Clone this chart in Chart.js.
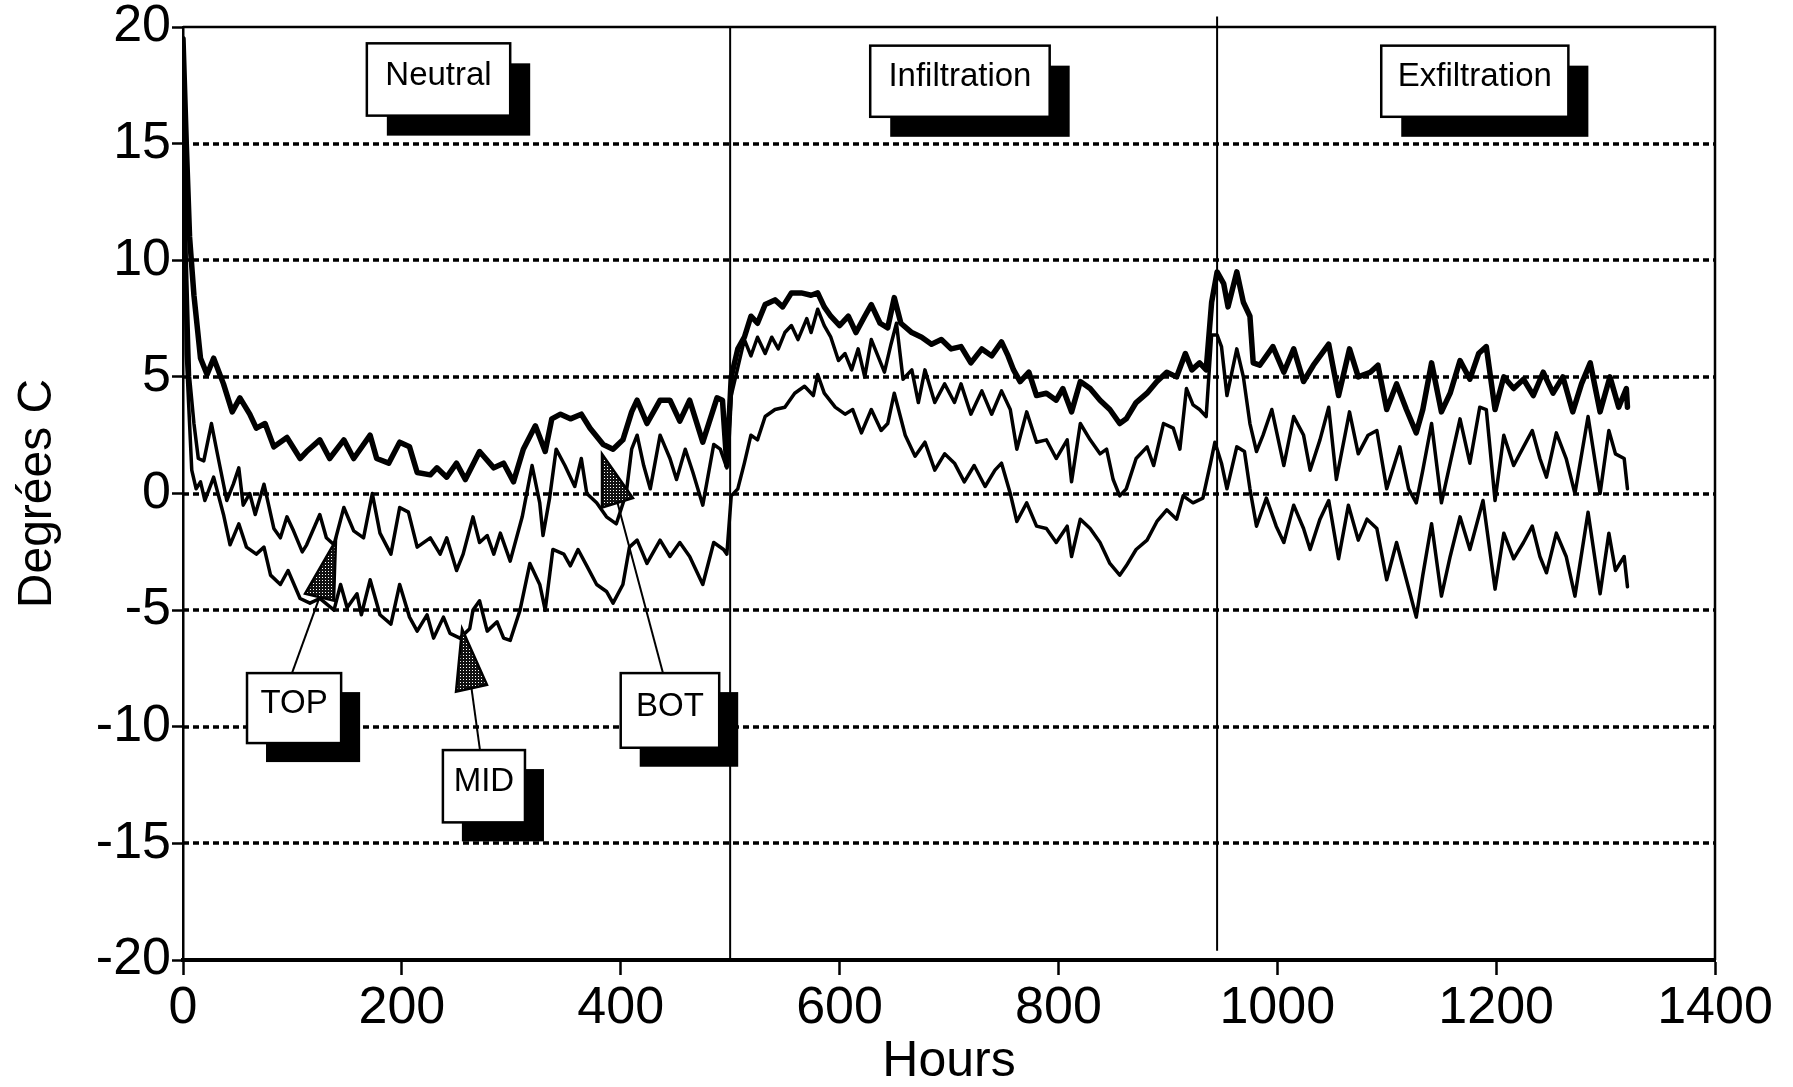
<!DOCTYPE html>
<html>
<head>
<meta charset="utf-8">
<title>Degrées C / Hours</title>
<script src="https://cdn.jsdelivr.net/npm/chart.js@4.4.0/dist/chart.umd.min.js"></script>
<style>
  html, body { margin: 0; padding: 0; background: #fff; }
  canvas { display: block; }
</style>
</head>
<body>
<canvas id="tempChart" width="1793" height="1087"></canvas>
<script>
// BOT sensor (heavy upper trace)
const botHours = [0, 3, 6, 10, 16, 22, 28, 37, 45, 52, 61, 67, 75, 83, 95, 107, 113, 125, 134, 147,
  156, 171, 177, 188, 198, 207, 214, 226, 232, 241, 250, 258, 271, 284, 293, 302, 311, 322, 331, 337,
  345, 354, 364, 372, 384, 393, 402, 410, 415, 424, 436, 445, 454, 463, 475, 488, 493, 497, 501, 507,
  513, 519, 525, 532, 541, 548, 556, 565, 574, 580, 586, 592, 600, 608, 615, 623, 629, 637, 644, 650,
  656, 666, 675, 684, 693, 702, 711, 720, 730, 739, 748, 754, 759, 765, 773, 780, 789, 798, 804, 812,
  820, 829, 838, 847, 856, 862, 871, 881, 890, 899, 908, 916, 922, 929, 935, 940, 945, 951, 955, 963,
  969, 975, 978, 984, 996, 1006, 1015, 1024, 1033, 1047, 1056, 1066, 1074, 1085, 1092, 1100, 1109, 1118, 1127, 1133,
  1141, 1150, 1158, 1167, 1176, 1184, 1191, 1199, 1207, 1216, 1225, 1234, 1243, 1252, 1261, 1270, 1278, 1286, 1295, 1304,
  1312, 1319, 1320];
const botTemps = [19.5, 15, 11, 8.5, 5.8, 5.1, 5.8, 4.7, 3.5, 4.1, 3.4, 2.8, 3.0, 2.0, 2.4, 1.5, 1.8, 2.3, 1.5, 2.3,
  1.5, 2.5, 1.5, 1.3, 2.2, 2.0, 0.9, 0.8, 1.1, 0.7, 1.3, 0.6, 1.8, 1.1, 1.3, 0.5, 1.9, 2.9, 1.8, 3.2,
  3.4, 3.2, 3.4, 2.8, 2.1, 1.9, 2.3, 3.5, 4.0, 3.0, 4.0, 4.0, 3.1, 4.0, 2.2, 4.1, 4.0, 1.2, 5.0, 6.2,
  6.7, 7.6, 7.3, 8.1, 8.3, 8.0, 8.6, 8.6, 8.5, 8.6, 8.0, 7.6, 7.2, 7.6, 6.9, 7.6, 8.1, 7.3, 7.1, 8.4,
  7.3, 6.9, 6.7, 6.4, 6.6, 6.2, 6.3, 5.6, 6.2, 5.9, 6.5, 5.9, 5.3, 4.8, 5.2, 4.2, 4.3, 4.0, 4.5, 3.5,
  4.8, 4.5, 4.0, 3.6, 3.0, 3.2, 3.9, 4.3, 4.8, 5.2, 5.0, 6.0, 5.3, 5.6, 5.3, 8.2, 9.5, 9.0, 8.0, 9.5,
  8.2, 7.6, 5.6, 5.5, 6.3, 5.2, 6.2, 4.8, 5.5, 6.4, 4.2, 6.2, 5.0, 5.2, 5.5, 3.6, 4.7, 3.6, 2.6, 3.6,
  5.6, 3.5, 4.3, 5.7, 4.9, 6.0, 6.3, 3.6, 5.0, 4.5, 4.9, 4.2, 5.2, 4.3, 5.0, 3.5, 4.7, 5.6, 3.5, 5.0,
  3.7, 4.5, 3.7];

// TOP sensor (middle trace)
const topHours = [0, 3, 6, 10, 14, 19, 26, 31, 40, 46, 51, 55, 61, 66, 74, 83, 89, 95, 101, 109,
  113, 125, 131, 138, 147, 156, 165, 173, 180, 190, 198, 206, 214, 226, 235, 241, 250, 256, 265, 271,
  278, 284, 290, 299, 310, 319, 326, 329, 335, 341, 349, 358, 364, 369, 378, 387, 396, 405, 410, 415,
  421, 427, 436, 445, 451, 459, 466, 475, 485, 491, 497, 501, 507, 513, 519, 525, 532, 538, 544, 550,
  556, 562, 570, 574, 580, 586, 592, 599, 605, 611, 617, 623, 629, 635, 641, 647, 652, 658, 666, 672,
  678, 687, 696, 705, 711, 720, 730, 739, 748, 756, 762, 771, 780, 789, 798, 808, 812, 820, 829, 838,
  844, 850, 856, 862, 871, 881, 887, 896, 905, 911, 917, 923, 929, 935, 940, 945, 949, 954, 963, 969,
  975, 981, 987, 995, 1006, 1015, 1024, 1030, 1039, 1047, 1054, 1066, 1074, 1083, 1091, 1100, 1112, 1120, 1127, 1133,
  1141, 1150, 1158, 1167, 1176, 1185, 1191, 1199, 1207, 1216, 1225, 1233, 1240, 1246, 1255, 1264, 1272, 1284, 1295, 1303,
  1309, 1317, 1320];
const topTemps = [18, 10, 5, 3, 1.5, 1.4, 3.0, 1.8, -0.3, 0.4, 1.1, -0.5, 0, -0.9, 0.4, -1.5, -1.9, -1.0, -1.6, -2.5,
  -2.2, -0.9, -1.9, -2.2, -0.6, -1.6, -1.9, 0, -1.7, -2.6, -0.6, -0.8, -2.3, -1.9, -2.6, -1.9, -3.3, -2.6, -1.0, -2.1,
  -1.8, -2.6, -1.7, -2.9, -1.0, 1.2, -0.4, -1.8, -0.2, 1.9, 1.2, 0.3, 1.5, 0, -0.4, -1.0, -1.3, 0, 1.9, 2.5,
  1.2, 0.2, 2.5, 1.5, 0.6, 1.9, 0.9, -0.5, 2.1, 1.9, 1.1, 4.2, 5.4, 6.6, 5.9, 6.7, 6.0, 6.7, 6.2, 6.9,
  7.2, 6.6, 7.5, 6.9, 7.9, 7.2, 6.7, 5.7, 6.0, 5.3, 6.2, 5.0, 6.6, 5.9, 5.2, 6.4, 7.3, 4.9, 5.3, 3.9,
  5.3, 3.9, 4.7, 3.9, 4.7, 3.4, 4.4, 3.4, 4.4, 3.6, 1.9, 3.5, 2.2, 2.3, 1.5, 2.3, 0.5, 3.0, 2.3, 1.7,
  1.9, 0.6, -0.1, 0.2, 1.5, 2.0, 1.2, 3.0, 2.8, 1.9, 4.5, 3.8, 3.6, 3.3, 6.8, 6.8, 6.3, 4.2, 6.2, 5.0,
  3.0, 1.8, 2.5, 3.6, 1.2, 3.3, 2.5, 1.0, 2.3, 3.7, 0.6, 3.5, 1.7, 2.5, 2.7, 0.2, 2.0, 0.2, -0.4, 1.0,
  3.0, -0.4, 1.3, 3.2, 1.3, 3.7, 3.6, -0.3, 2.5, 1.2, 2.0, 2.7, 1.5, 0.7, 2.6, 1.5, 0, 3.3, 0, 2.7,
  1.7, 1.5, 0.2];

// MID sensor (lower trace)
const midHours = [0, 3, 8, 12, 16, 20, 28, 37, 43, 51, 58, 67, 74, 80, 89, 96, 107, 116, 125, 138,
  144, 150, 159, 163, 171, 180, 190, 198, 207, 214, 223, 229, 238, 244, 253, 262, 265, 271, 278, 287,
  293, 299, 308, 317, 326, 331, 338, 348, 354, 361, 369, 378, 387, 393, 402, 408, 415, 424, 436, 445,
  454, 463, 475, 485, 494, 497, 501, 507, 513, 519, 525, 532, 541, 550, 559, 568, 576, 580, 586, 596,
  605, 612, 620, 629, 638, 644, 650, 660, 669, 678, 687, 696, 705, 714, 723, 733, 742, 748, 756, 762,
  771, 780, 789, 798, 808, 812, 820, 829, 838, 847, 856, 862, 871, 881, 890, 899, 908, 914, 923, 932,
  939, 943, 949, 954, 963, 970, 975, 981, 990, 999, 1006, 1015, 1024, 1030, 1039, 1047, 1056, 1065, 1074, 1082,
  1091, 1100, 1109, 1118, 1127, 1133, 1141, 1150, 1158, 1167, 1176, 1188, 1199, 1207, 1216, 1225, 1233, 1240, 1246, 1255,
  1264, 1272, 1284, 1295, 1303, 1309, 1317, 1320];
const midTemps = [16, 6, 1, 0.2, 0.5, -0.3, 0.7, -0.9, -2.2, -1.3, -2.3, -2.6, -2.3, -3.5, -3.9, -3.3, -4.5, -4.7, -4.5, -5.0,
  -3.9, -4.9, -4.3, -5.2, -3.7, -5.2, -5.6, -3.9, -5.3, -5.9, -5.2, -6.2, -5.3, -6.0, -6.2, -5.8, -5.0, -4.6, -5.9, -5.5,
  -6.2, -6.3, -5.0, -3.0, -3.9, -5.0, -2.4, -2.6, -3.1, -2.4, -3.1, -3.9, -4.2, -4.7, -3.9, -2.3, -2.0, -3.0, -2.0, -2.7,
  -2.1, -2.7, -3.9, -2.1, -2.4, -2.6, -0.1, 0.2, 1.3, 2.5, 2.3, 3.3, 3.6, 3.7, 4.3, 4.6, 4.2, 5.1, 4.3, 3.7,
  3.4, 3.6, 2.6, 3.6, 2.7, 3.0, 4.3, 2.5, 1.6, 2.2, 1.0, 1.7, 1.3, 0.5, 1.2, 0.3, 1.0, 1.3, 0, -1.2,
  -0.4, -1.4, -1.5, -2.1, -1.4, -2.7, -1.1, -1.5, -2.1, -3.0, -3.5, -3.1, -2.4, -2.0, -1.2, -0.7, -1.1, -0.1, -0.4, -0.2,
  1.3, 2.2, 1.3, 0.2, 2.0, 1.8, 0.2, -1.4, -0.2, -1.4, -2.1, -0.5, -1.5, -2.4, -1.1, -0.3, -2.8, -0.5, -2.0, -1.1,
  -1.5, -3.7, -2.1, -3.7, -5.3, -3.5, -1.3, -4.4, -2.7, -1.0, -2.4, -0.3, -4.1, -1.7, -2.8, -2.1, -1.4, -2.7, -3.4, -1.7,
  -2.7, -4.4, -0.8, -4.3, -1.7, -3.3, -2.7, -4.0];

const hourTicks = [0, 200, 400, 600, 800, 1000, 1200, 1400];
const degreeTicks = [-20, -15, -10, -5, 0, 5, 10, 15, 20];
const phaseBreaks = [500, 945];

const BASE_FONT = '"Liberation Sans", Arial, Helvetica, sans-serif';

// boxed captions, placed in axis units (hours / degrees)
const phaseBoxes = [
  { text: 'Neutral', x0: 168, x1: 299, y0: 19.3, y1: 16.2 },
  { text: 'Infiltration', x0: 628, x1: 792, y0: 19.2, y1: 16.15 },
  { text: 'Exfiltration', x0: 1095, x1: 1266, y0: 19.2, y1: 16.15 }
];
const sensorBoxes = [
  { text: 'TOP', x0: 58.5, x1: 144.5, y0: -7.7, y1: -10.7,
    tip: [139.8, -2.0], base: [[111.5, -4.3], [138, -4.6]], tail: [99.6, -7.7] },
  { text: 'MID', x0: 237.5, x1: 312.5, y0: -11.0, y1: -14.1,
    tip: [255, -5.8], base: [[249.5, -8.5], [277.8, -8.2]], tail: [271.4, -11.0] },
  { text: 'BOT', x0: 400, x1: 490, y0: -7.7, y1: -10.9,
    tip: [382.9, 1.7], base: [[382.9, -0.6], [411.2, -0.2]], tail: [438.6, -7.7] }
];

function toPoints(xs, ys) {
  return xs.map((x, i) => ({ x: x, y: ys[i] }));
}

function dotPattern(ctx) {
  const tile = document.createElement('canvas');
  tile.width = 3;
  tile.height = 3;
  const t = tile.getContext('2d');
  t.fillStyle = '#111';
  t.fillRect(0, 0, 3, 3);
  t.fillStyle = '#fff';
  t.fillRect(1, 1, 1, 1);
  return ctx.createPattern(tile, 'repeat');
}

function drawBox(ctx, sx, sy, box, shadow) {
  const l = sx.getPixelForValue(box.x0), r = sx.getPixelForValue(box.x1);
  const t = sy.getPixelForValue(box.y0), b = sy.getPixelForValue(box.y1);
  ctx.fillStyle = '#000';
  ctx.fillRect(l + shadow, t + shadow, r - l, b - t);
  ctx.fillStyle = '#fff';
  ctx.fillRect(l, t, r - l, b - t);
  ctx.lineWidth = 2.5;
  ctx.strokeStyle = '#000';
  ctx.strokeRect(l, t, r - l, b - t);
  ctx.fillStyle = '#000';
  ctx.font = '33px ' + BASE_FONT;
  ctx.textAlign = 'center';
  ctx.textBaseline = 'middle';
  ctx.fillText(box.text, (l + r) / 2, (t + b) / 2 - 4);
}

const frameAndNotes = {
  id: 'frameAndNotes',
  beforeDatasetsDraw(chart) {
    const { ctx, chartArea: { left, right, top, bottom }, scales: { x, y } } = chart;
    ctx.save();
    ctx.strokeStyle = '#000';

    // dotted grid at the inner degree ticks
    ctx.lineWidth = 3.5;
    ctx.setLineDash([6, 4]);
    degreeTicks.slice(1, -1).forEach(v => {
      const py = Math.round(y.getPixelForValue(v));
      ctx.beginPath();
      ctx.moveTo(left, py);
      ctx.lineTo(right, py);
      ctx.stroke();
    });
    ctx.setLineDash([]);

    // top and right frame
    ctx.lineWidth = 2.5;
    ctx.beginPath();
    ctx.moveTo(left, top);
    ctx.lineTo(right, top);
    ctx.lineTo(right, bottom);
    ctx.stroke();

    // phase separators
    ctx.lineWidth = 2;
    const p1 = x.getPixelForValue(phaseBreaks[0]);
    ctx.beginPath();
    ctx.moveTo(p1, top);
    ctx.lineTo(p1, bottom);
    ctx.stroke();
    const p2 = x.getPixelForValue(phaseBreaks[1]);
    ctx.beginPath();
    ctx.moveTo(p2, y.getPixelForValue(20.45));
    ctx.lineTo(p2, y.getPixelForValue(-19.6));
    ctx.stroke();
    ctx.restore();
  },
  afterDatasetsDraw(chart) {
    const { ctx, scales: { x, y } } = chart;
    ctx.save();
    const dots = dotPattern(ctx);

    phaseBoxes.forEach(box => drawBox(ctx, x, y, box, 20));

    sensorBoxes.forEach(box => {
      const tip = [x.getPixelForValue(box.tip[0]), y.getPixelForValue(box.tip[1])];
      const b1 = [x.getPixelForValue(box.base[0][0]), y.getPixelForValue(box.base[0][1])];
      const b2 = [x.getPixelForValue(box.base[1][0]), y.getPixelForValue(box.base[1][1])];
      const tail = [x.getPixelForValue(box.tail[0]), y.getPixelForValue(box.tail[1])];

      // pointer stem
      ctx.strokeStyle = '#000';
      ctx.lineWidth = 2;
      ctx.beginPath();
      ctx.moveTo((b1[0] + b2[0]) / 2, (b1[1] + b2[1]) / 2);
      ctx.lineTo(tail[0], tail[1]);
      ctx.stroke();

      // stippled arrow head
      ctx.beginPath();
      ctx.moveTo(tip[0], tip[1]);
      ctx.lineTo(b1[0], b1[1]);
      ctx.lineTo(b2[0], b2[1]);
      ctx.closePath();
      ctx.fillStyle = dots;
      ctx.fill();
      ctx.lineWidth = 2.5;
      ctx.stroke();

      drawBox(ctx, x, y, box, 19);
    });
    ctx.restore();
  }
};

const tickFont = { family: BASE_FONT, size: 52, lineHeight: 1.0 };

new Chart(document.getElementById('tempChart'), {
  type: 'line',
  data: {
    datasets: [
      { label: 'BOT', data: toPoints(botHours, botTemps), borderColor: '#000', borderWidth: 5.5 },
      { label: 'TOP', data: toPoints(topHours, topTemps), borderColor: '#000', borderWidth: 3.5 },
      { label: 'MID', data: toPoints(midHours, midTemps), borderColor: '#000', borderWidth: 3.5 }
    ]
  },
  options: {
    responsive: false,
    animation: false,
    events: [],
    elements: {
      point: { radius: 0 },
      line: { tension: 0, fill: false, borderJoinStyle: 'round', borderCapStyle: 'round' }
    },
    layout: { padding: { top: 25, right: 78, left: 0, bottom: 0 } },
    plugins: {
      legend: { display: false },
      tooltip: { enabled: false }
    },
    scales: {
      x: {
        type: 'linear',
        min: 0,
        max: 1400,
        afterBuildTicks: scale => { scale.ticks = hourTicks.map(v => ({ value: v })); },
        afterFit: scale => { scale.height = 127; },
        ticks: {
          color: '#000',
          font: tickFont,
          padding: 8,
          maxRotation: 0,
          autoSkip: false,
          callback: value => String(value)
        },
        grid: { drawOnChartArea: false, drawTicks: true, tickLength: 15, tickWidth: 2.5, tickColor: '#000' },
        border: { display: true, color: '#000', width: 4 },
        title: {
          display: true,
          text: 'Hours',
          color: '#000',
          font: { family: BASE_FONT, size: 50, lineHeight: 1.0 },
          padding: 0
        }
      },
      y: {
        type: 'linear',
        min: -20,
        max: 20,
        afterBuildTicks: scale => { scale.ticks = degreeTicks.map(v => ({ value: v })); },
        afterFit: scale => { scale.width = 183; },
        ticks: { color: '#000', font: tickFont, padding: 1, autoSkip: false, callback: value => String(value) },
        grid: { drawOnChartArea: false, drawTicks: true, tickLength: 11, tickWidth: 2.5, tickColor: '#000' },
        border: { display: true, color: '#000', width: 2.5 },
        title: {
          display: true,
          text: 'Degrées C',
          color: '#000',
          font: { family: BASE_FONT, size: 48, lineHeight: 1.0 },
          padding: { top: 14, bottom: 0 }
        }
      }
    }
  },
  plugins: [frameAndNotes]
});
</script>
</body>
</html>
